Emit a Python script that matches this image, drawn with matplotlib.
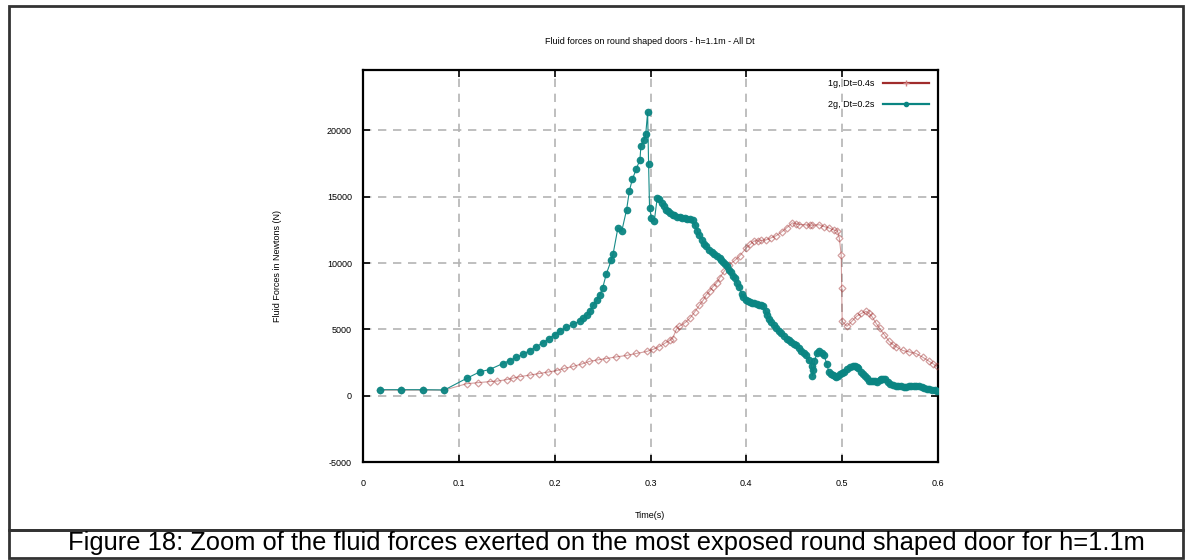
import matplotlib
matplotlib.use('Agg')
import matplotlib.pyplot as plt
from matplotlib.lines import Line2D
from matplotlib.patches import Rectangle

plt.rcParams['font.family'] = ['Liberation Sans', 'DejaVu Sans']
plt.rcParams['axes.unicode_minus'] = False

# Series 1: 1g, Dt=0.4s
t_1g = [0.018, 0.040, 0.063, 0.085, 0.108, 0.120, 0.132, 0.140, 0.150, 0.157,
        0.164, 0.174, 0.184, 0.193, 0.202, 0.210, 0.219, 0.228, 0.236, 0.245,
        0.254, 0.264, 0.275, 0.285, 0.296, 0.303, 0.309, 0.315, 0.320, 0.323,
        0.327, 0.330, 0.336, 0.341, 0.346, 0.351, 0.355, 0.358, 0.362, 0.365,
        0.369, 0.372, 0.377, 0.382, 0.388, 0.393, 0.400, 0.404, 0.408, 0.412,
        0.415, 0.421, 0.426, 0.431, 0.437, 0.442, 0.448, 0.452, 0.455, 0.462,
        0.466, 0.469, 0.476, 0.481, 0.486, 0.491, 0.495, 0.497, 0.499, 0.4995,
        0.500, 0.505, 0.510, 0.515, 0.520, 0.525, 0.528, 0.531, 0.535, 0.539,
        0.544, 0.549, 0.553, 0.556, 0.563, 0.570, 0.577, 0.584, 0.591, 0.595,
        0.599]
f_1g = [420, 420, 420, 420, 900, 980, 1060, 1100, 1210, 1330,
        1440, 1550, 1670, 1780, 1890, 2050, 2200, 2380, 2580, 2700,
        2800, 2920, 3030, 3180, 3330, 3500, 3700, 3950, 4170, 4300,
        5000, 5230, 5500, 5830, 6300, 6820, 7200, 7580, 7900, 8200,
        8500, 8860, 9400, 9850, 10200, 10530, 11140, 11400, 11670, 11650,
        11700, 11750, 11900, 12050, 12350, 12650, 13030, 12950, 12900, 12880,
        12850, 12850, 12880, 12750, 12650, 12500, 12420, 11900, 10600, 8100,
        5600, 5230, 5600, 5980, 6200, 6360, 6200, 5980, 5500, 5080,
        4600, 4090, 3850, 3700, 3410, 3300, 3180, 2900, 2580, 2400,
        2200]

# Series 2: 2g, Dt=0.2s
t_2g = [0.018, 0.040, 0.063, 0.085, 0.108, 0.122, 0.132, 0.146, 0.153, 0.160,
        0.167, 0.174, 0.181, 0.188, 0.194, 0.200, 0.206, 0.212, 0.219, 0.226,
        0.230, 0.234, 0.237, 0.240, 0.244, 0.247, 0.250, 0.254, 0.259, 0.261,
        0.266, 0.270, 0.275, 0.278, 0.281, 0.285, 0.289, 0.290, 0.293, 0.295,
        0.297, 0.298, 0.299, 0.301, 0.304, 0.307, 0.309, 0.312, 0.314, 0.316,
        0.318, 0.320, 0.323, 0.325, 0.328, 0.331, 0.333, 0.336, 0.338, 0.341,
        0.344, 0.346, 0.349, 0.351, 0.354, 0.356, 0.358, 0.361, 0.364, 0.366,
        0.369, 0.372, 0.374, 0.376, 0.378, 0.380, 0.382, 0.384, 0.386, 0.388,
        0.390, 0.392, 0.395, 0.397, 0.400, 0.402, 0.404, 0.406, 0.408, 0.411,
        0.413, 0.415, 0.417, 0.420, 0.422, 0.424, 0.426, 0.429, 0.431, 0.434,
        0.436, 0.439, 0.442, 0.444, 0.447, 0.450, 0.452, 0.455, 0.457, 0.460,
        0.462, 0.465, 0.468, 0.469, 0.470, 0.471, 0.474, 0.476, 0.479, 0.481,
        0.484, 0.486, 0.488, 0.490, 0.492, 0.494, 0.496, 0.498, 0.500, 0.502,
        0.505, 0.508, 0.511, 0.513, 0.515, 0.517, 0.520, 0.522, 0.524, 0.526,
        0.528, 0.530, 0.532, 0.534, 0.536, 0.539, 0.541, 0.543, 0.545, 0.548,
        0.550, 0.553, 0.556, 0.558, 0.561, 0.564, 0.567, 0.570, 0.572, 0.575,
        0.577, 0.580, 0.583, 0.585, 0.588, 0.591, 0.594, 0.597, 0.599]
f_2g = [450, 450, 450, 430, 1300, 1800, 1970, 2420, 2650, 2880,
        3130, 3400, 3700, 4000, 4300, 4600, 4870, 5150, 5380, 5600,
        5830, 6060, 6400, 6800, 7200, 7580, 8100, 9200, 10200, 10700,
        12650, 12400, 14000, 15450, 16300, 17050, 17800, 18850, 19250, 19700,
        21350, 17500, 14150, 13400, 13200, 14900, 14800, 14500, 14300, 14000,
        13900, 13800, 13650, 13600, 13500, 13450, 13400, 13380, 13350, 13300,
        13250, 12900, 12400, 12100, 11750, 11450, 11300, 11000, 10850, 10700,
        10550, 10400, 10250, 10100, 9900, 9750, 9500, 9300, 9050, 8850,
        8500, 8200, 7700, 7450, 7200, 7100, 7050, 7000, 6950, 6900,
        6850, 6800, 6750, 6400, 6050, 5800, 5550, 5300, 5100, 4900,
        4700, 4500, 4300, 4180, 4050, 3920, 3800, 3600, 3400, 3200,
        3050, 2700, 2270, 1500, 1900, 2650, 3200, 3400, 3250, 3050,
        2400, 1800, 1650, 1550, 1500, 1440, 1500, 1600, 1700, 1800,
        2000, 2150, 2270, 2270, 2150, 2050, 1800, 1600, 1450, 1300,
        1140, 1100, 1080, 1070, 1060, 1150, 1250, 1290, 1250, 1000,
        900, 820, 760, 720, 700, 680, 680, 700, 720, 760,
        760, 700, 620, 580, 530, 480, 450, 400, 380]

y_ticks = [-5000, 0, 5000, 10000, 15000, 20000]
x_ticks = [0, 0.1, 0.2, 0.3, 0.4, 0.5, 0.6]

RED = '#a02c2c'
TEAL = '#0a8582'

W, H = 1187, 560
fig = plt.figure(figsize=(W / 100, H / 100), dpi=100)
ax = fig.add_axes([363 / W, 1 - 462 / H, (938 - 363) / W, (462 - 70) / H])

# red series: hollow diamonds, faded
ax.plot(t_1g, f_1g, color=RED, lw=0.8, alpha=0.45, marker='D', markersize=3.5,
        markerfacecolor='none', markeredgewidth=0.9, zorder=3)
# teal series: filled markers
ax.plot(t_2g, f_2g, color=TEAL, lw=0.8, marker='o', markersize=5.5,
        markeredgewidth=0, alpha=0.95, zorder=4)

ax.set_xlim(0, 0.6)
ax.set_ylim(-5000, 24550)
ax.set_xticks(x_ticks)
ax.set_xticklabels(['0', '0.1', '0.2', '0.3', '0.4', '0.5', '0.6'])
ax.set_yticks(y_ticks)
ax.grid(True, color='#b4b4b4', linestyle=(0, (5, 4)), linewidth=1.2)
ax.set_axisbelow(True)
ax.tick_params(direction='in', top=True, right=True, length=5, width=1.2,
               labelsize=6.5, color='black')
ax.tick_params(axis='x', pad=12)
ax.tick_params(axis='y', pad=8)
for s in ax.spines.values():
    s.set_linewidth(1.6)

# legend, gnuplot style: text then sample
handles = [Line2D([], [], color=RED, lw=1.6, marker='+', markersize=4, markeredgecolor='#d08080'),
           Line2D([], [], color=TEAL, lw=1.6, marker='o', markersize=3)]
ax.legend(handles, ['1g, Dt=0.4s', '2g, Dt=0.2s'], loc='upper right', frameon=False,
          markerfirst=False, fontsize=6.5, handlelength=5.1, handletextpad=1.0,
          borderaxespad=0.6, labelspacing=1.3)

fig.text(650 / W, 1 - 42 / H, 'Fluid forces on round shaped doors - h=1.1m - All Dt',
         ha='center', va='center', fontsize=6.5)
fig.text(277 / W, 1 - 266 / H, 'Fluid Forces in Newtons (N)', rotation=90,
         ha='center', va='center', fontsize=6.5)
fig.text(650 / W, 1 - 516 / H, 'Time(s)', ha='center', va='center', fontsize=6.5)

# outer frame and caption box
fig.add_artist(Rectangle((9 / W, 1 - 530 / H), (1183 - 9) / W, (530 - 6) / H,
                         transform=fig.transFigure, fill=False, lw=2, edgecolor='#333333'))
fig.add_artist(Rectangle((9 / W, 1 - 558 / H), (1183 - 9) / W, (558 - 530) / H,
                         transform=fig.transFigure, fill=False, lw=2, edgecolor='#333333'))
fig.text(606 / W, 1 - 543 / H,
         'Figure 18: Zoom of the fluid forces exerted on the most exposed round shaped door for h=1.1m',
         ha='center', va='center', fontsize=18.4)

fig.savefig('out.png', dpi=100)
